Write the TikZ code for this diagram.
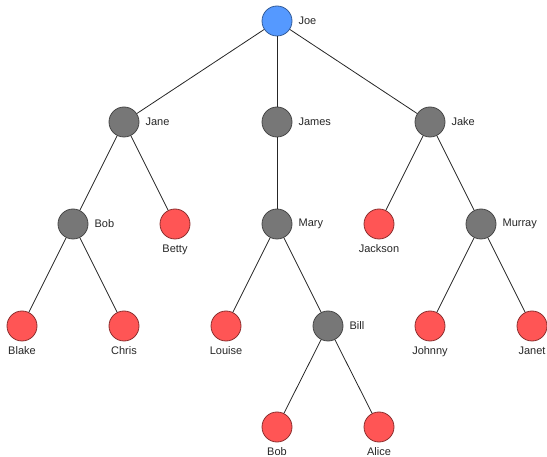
\documentclass[tikz,border=0pt]{standalone}
\usepackage{fontspec}
\setmainfont{Liberation Sans}
\begin{document}
\begin{tikzpicture}[x=1pt,y=-1pt,
  person/.style={circle,minimum size=30pt,inner sep=0pt,line width=0.8pt},
  root/.style={person,fill=rootblue,draw=rootblue!60!black},
  inner/.style={person,fill=innergray,draw=innergray!60!black},
  leaf/.style={person,fill=leafred,draw=leafred!55!black},
  tag/.style={font=\fontsize{11}{13}\selectfont,inner sep=0pt,text=black!85},
  edge/.style={line width=0.8pt,black!85}]
\definecolor{rootblue}{HTML}{5599FF}
\definecolor{innergray}{HTML}{777777}
\definecolor{leafred}{HTML}{FF5555}
\useasboundingbox (0,0) rectangle (547,457);

% generation 0
\node[root] (joe) at (277,21) {};
% generation 1
\node[inner] (jane) at (124,122) {};
\node[inner] (james) at (277,122) {};
\node[inner] (jake) at (430,122) {};
% generation 2
\node[inner] (bob) at (73,224) {};
\node[leaf] (betty) at (175,224) {};
\node[inner] (mary) at (277,224) {};
\node[leaf] (jackson) at (379,224) {};
\node[inner] (murray) at (481,224) {};
% generation 3
\node[leaf] (blake) at (22,326) {};
\node[leaf] (chris) at (124,326) {};
\node[leaf] (louise) at (226,326) {};
\node[inner] (bill) at (328,326) {};
\node[leaf] (johnny) at (430,326) {};
\node[leaf] (janet) at (532,326) {};
% generation 4
\node[leaf] (bobjr) at (277,427) {};
\node[leaf] (alice) at (379,427) {};

% edges
\foreach \a/\b in {joe/jane,joe/james,joe/jake,
                   jane/bob,jane/betty,james/mary,jake/jackson,jake/murray,
                   bob/blake,bob/chris,mary/louise,mary/bill,
                   murray/johnny,murray/janet,bill/bobjr,bill/alice}
  \draw[edge] (\a) -- (\b);

% labels to the right of parents
\foreach \n/\t in {joe/Joe,jane/Jane,james/James,jake/Jake,bob/Bob,mary/Mary,murray/Murray,bill/Bill}
  \node[tag,anchor=west] (\n-l) at ([xshift=6pt]\n.east) {\t};
% labels below leaves
\foreach \n/\t in {betty/Betty,jackson/Jackson,blake/Blake,chris/Chris,louise/Louise,johnny/Johnny,janet/Janet,bobjr/Bob,alice/Alice}
  \node[tag,anchor=north] (\n-l) at ([yshift=-5pt]\n.south) {\t};
\end{tikzpicture}
\end{document}
